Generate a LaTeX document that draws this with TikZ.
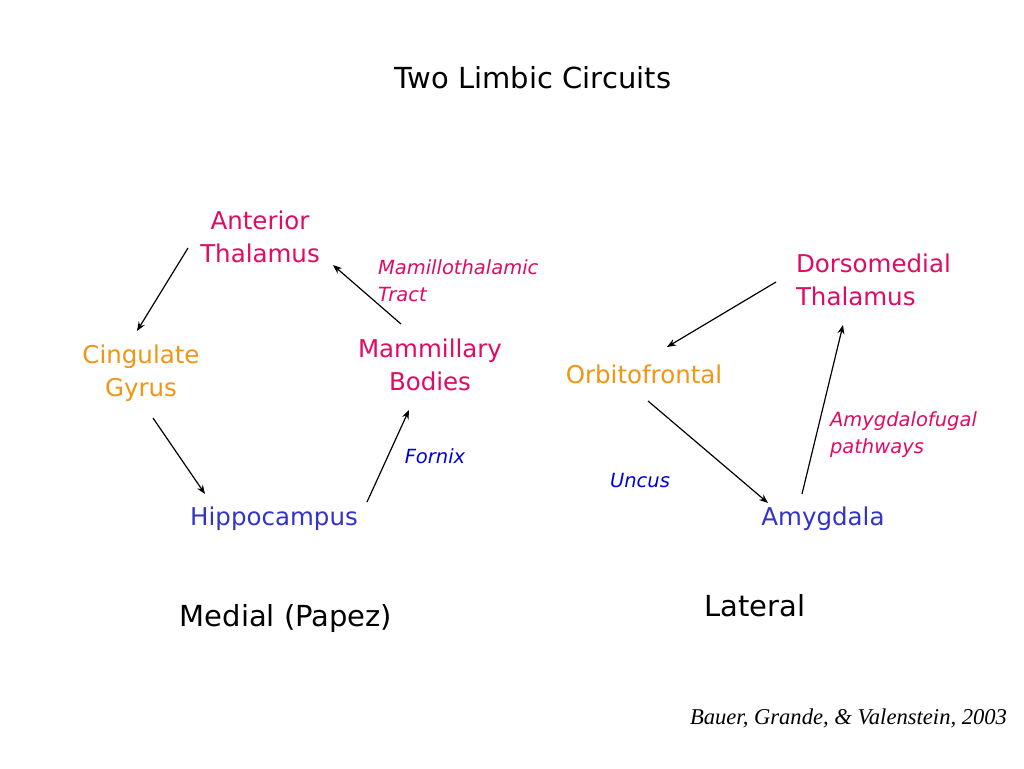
\documentclass[tikz,border=0pt]{standalone}
\usepackage{fontspec}
\setmainfont{DejaVu Sans}
\newfontfamily\citefont{Liberation Serif}
\usepackage{tikz}
\usetikzlibrary{arrows.meta}
\usepackage{xcolor}
\definecolor{mred}{RGB}{225,10,100}
\definecolor{morange}{RGB}{240,150,20}
\definecolor{mblue}{RGB}{51,51,204}
\definecolor{mdblue}{RGB}{0,0,220}

\begin{document}
\begin{tikzpicture}[x=1pt,y=-1pt,
    every node/.style={inner sep=0pt,outer sep=0pt},
    area/.style={font=\fontsize{24.5}{33}\selectfont,align=center},
    tract/.style={font=\fontsize{19.5}{27}\selectfont\itshape,align=left},
    head/.style={font=\fontsize{29}{35}\selectfont},
    arr/.style={line width=1.2pt,-{Stealth[length=9pt,width=7pt]}}]
  \useasboundingbox[fill=white] (0,0) rectangle (1024,768);
  \node[head] (title) at (533,78) {Two Limbic Circuits};
  % medial circuit
  \node[area,mred] (ant) at (260,237) {Anterior\\Thalamus};
  \node[area,morange] (cing) at (141,373) {Cingulate\\Gyrus};
  \node[area,mred] (mam) at (430,365) {Mammillary\\Bodies};
  \node[area,mblue] (hip) at (274,519) {Hippocampus};
  \node[tract,mred,anchor=west] (mtt) at (378,281) {Mamillothalamic\\Tract};
  \node[tract,mdblue] (fornix) at (435,456) {Fornix};
  \node[head] (medial) at (286,618) {Medial (Papez)};
  \draw[arr] ([shift={(-72,11)}]ant.center) -- ([shift={(-4,-42)}]cing.center);
  \draw[arr] ([shift={(12,45)}]cing.center) -- ([shift={(-69,-25)}]hip.center);
  \draw[arr] ([shift={(93,-17)}]hip.center) -- ([shift={(-21,45)}]mam.center);
  \draw[arr] ([shift={(-29,-41)}]mam.center) -- ([shift={(73,28)}]ant.center);
  % lateral circuit
  \node[area,mred,align=left,anchor=west] (dmt) at (796,280) {Dorsomedial\\Thalamus};
  \node[area,morange] (orb) at (644,374) {Orbitofrontal};
  \node[area,mblue] (amy) at (823,519) {Amygdala};
  \node[tract,mred,anchor=west] (afp) at (830,434.5) {Amygdalofugal\\pathways};
  \node[tract,mdblue] (uncus) at (640,481) {Uncus};
  \node[head] (lateral) at (755,606) {Lateral};
  \draw[arr] ([shift={(-20,2)}]dmt.west) -- ([shift={(23,-27)}]orb.center);
  \draw[arr] ([shift={(4,27)}]orb.center) -- ([shift={(-55,-16)}]amy.center);
  \draw[arr] ([shift={(-21,-25)}]amy.center) -- ([shift={(47,45)}]dmt.west);
  \node[anchor=east,font=\citefont\itshape\fontsize{22.6}{27}\selectfont] (cite) at (1007,718)
    {Bauer, Grande, \& Valenstein, 2003};
\end{tikzpicture}
\end{document}
